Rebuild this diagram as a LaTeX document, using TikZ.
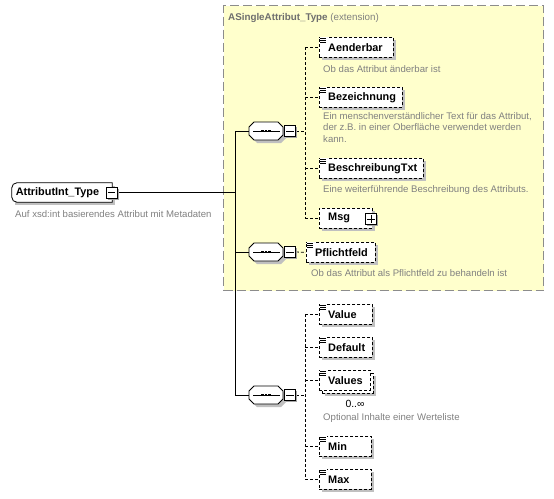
\documentclass[tikz,border=0pt]{standalone}
\usepackage{fontspec}
\setmainfont{Liberation Sans}
\usetikzlibrary{shadows}
\definecolor{grpfill}{RGB}{255,255,204}
\definecolor{grpline}{RGB}{140,140,140}
\definecolor{desc}{RGB}{128,128,128}
\definecolor{titlec}{RGB}{110,110,110}
\definecolor{shadowc}{RGB}{192,192,192}
\tikzset{
  ebox/.style={draw, dash pattern=on 3pt off 2pt, fill=white, line width=0.8pt,
    minimum height=20pt, inner sep=0pt,
    drop shadow={shadow xshift=3pt, shadow yshift=-3pt, fill=shadowc, opacity=1}},
  eboxns/.style={draw, dash pattern=on 3pt off 2pt, fill=white, line width=0.8pt,
    minimum height=20pt, inner sep=0pt},
  elabel/.style={font=\bfseries\fontsize{10.9}{12}\selectfont, inner sep=0pt, anchor=west},
  desctext/.style={font=\fontsize{9.6}{11.8}\selectfont, text=desc, inner sep=0pt, align=left},
  pmbox/.style={draw, fill=white, line width=0.9pt, minimum size=11pt, inner sep=0pt,
    drop shadow={shadow xshift=1.5pt, shadow yshift=-1.5pt, fill=gray!70, opacity=1}},
  seqnode/.style={minimum width=34pt, minimum height=18pt, inner sep=0pt},
  conn/.style={line width=0.8pt},
  dconn/.style={line width=0.8pt, dash pattern=on 3pt off 2pt},
  grpbox/.style={draw=grpline, fill=grpfill, line width=1.1pt, dash pattern=on 9pt off 4pt,
    inner sep=0pt, anchor=north west},
}
\newcommand\elicon[1]{%
  \fill[white] ([shift={(0.5pt,0.5pt)}]#1.north west) rectangle ++(7,6);
  \foreach \yy in {1.2,3.2,5.2} \draw[line width=0.7pt] ([shift={(1,\yy)}]#1.north west) -- ++(5.5,0);}
\newcommand\elem[5]{%
  \node[ebox, minimum width=#4pt, anchor=north west] (#1) at (#2,#3) {};
  \node[elabel] (#1-l) at ([xshift=9pt]#1.west) {#5};
  \elicon{#1}}
\newcommand\minusmark[1]{\draw[line width=0.9pt] ([xshift=2.2pt]#1.west) -- ([xshift=-2.2pt]#1.east);}
\newcommand\plusmark[1]{\minusmark{#1}\draw[line width=0.9pt] ([yshift=-2.2pt]#1.north) -- ([yshift=2.2pt]#1.south);}
\newcommand\octpath{++(-12,-9) -- ++(24,0) -- ++(5,5) -- ++(0,8) -- ++(-5,5) -- ++(-24,0) -- ++(-5,-5) -- ++(0,-8) -- cycle}
\newcommand\seqdraw[1]{%
  \fill[shadowc] (#1.center) ++(3,3) \octpath;
  \filldraw[fill=white, draw=black, line width=0.8pt] (#1.center) \octpath;
  \draw[line width=0.8pt] (#1.center) ++(-13,0) -- ++(27,0);
  \foreach \dx in {-3.5,0,3.5} \fill ([xshift=\dx pt]#1.center) ++(-1.2,-1.2) rectangle ++(2.4,2.4);}
\begin{document}
\begin{tikzpicture}[x=1pt,y=-1pt]
\useasboundingbox (0,0) rectangle (554,498);
% group box
\node[grpbox, minimum width=320pt, minimum height=285pt] (grp) at (223,5) {};
\node[anchor=west, inner sep=0pt, font=\fontsize{9.8}{12}\selectfont, text=titlec] (grpt) at (228,18)
  {\textbf{ASingleAttribut\_Type} \textcolor{desc}{(extension)}};
% coordinates for the trunk and branch lines
\coordinate (tk) at (235,0);
\coordinate (g1) at (305,0);
\coordinate (g3) at (305,0);
% root
\node[minimum width=100pt, minimum height=19pt, inner sep=0pt] (root) at (62,192.5) {};
\fill[shadowc] ([shift={(3pt,-3pt)}]root.north west) rectangle ([shift={(3pt,-3pt)}]root.south east);
\filldraw[fill=white, line width=0.8pt] (root.north east) [rounded corners=5pt] -- (root.north west) -- (root.south west) [sharp corners] -- (root.south east) -- cycle;
\node[elabel, anchor=center] (rootl) at (57.5,192.5) {AttributInt\_Type};
\node[desctext, anchor=west] (rootd) at (15,214) {Auf xsd:int basierendes Attribut mit Metadaten};
% compositors (anchors)
\node[seqnode] (seq1) at (266,131) {};
\node[seqnode] (seq2) at (266,252) {};
\node[seqnode] (seq3) at (266,395) {};
% elements
\elem{aend}{319}{37}{74}{Aenderbar}
\node[desctext, anchor=west] (aendd) at (323,69) {Ob das Attribut änderbar ist};
\elem{bez}{319}{87}{83}{Bezeichnung}
\node[desctext, anchor=north west] (bezd) at (323,112) {Ein menschenverständlicher Text für das Attribut,\\der z.B. in einer Oberfläche verwendet werden\\kann.};
\elem{besch}{319}{158}{104}{BeschreibungTxt}
\node[desctext, anchor=west] (beschd) at (323,190) {Eine weiterführende Beschreibung des Attributs.};
\node[ebox, minimum width=53pt, anchor=north west] (msg) at (319,208) {};
\node[elabel] (msg-l) at ([xshift=9pt]msg.west) {Msg};
\elem{pfl}{306}{242}{69}{Pflichtfeld}
\node[desctext, anchor=west] (pfld) at (311,273) {Ob das Attribut als Pflichtfeld zu behandeln ist};
\elem{val}{319}{304}{53}{Value}
\elem{def}{319}{337}{53}{Default}
\node[ebox, minimum width=51pt, anchor=north west] (valsb) at (322,373) {};
\node[eboxns, minimum width=51pt, anchor=north west] (vals) at (319,370) {};
\node[elabel] (vals-l) at ([xshift=9pt]vals.west) {Values};
\elicon{vals}
\node[inner sep=0pt, font=\fontsize{10.4}{12}\selectfont] (valsm) at (355,404) {0..∞};
\node[desctext, anchor=west] (valsd) at (323,418) {Optional Inhalte einer Werteliste};
\elem{min}{319}{436}{52}{Min}
\elem{max}{319}{469}{52}{Max}
% solid connectors
\draw[conn] (root.east) -- (root.east -| tk);
\draw[conn] (seq1.west) -- (seq1.west -| tk) -- (seq3.west -| tk) -- (seq3.west);
\draw[conn] (seq2.west) -- (seq2.west -| tk);
% plus/minus boxes
\node[pmbox] (m0) at (111.5,192.5) {}; \minusmark{m0}
\node[pmbox] (m1) at (290,131) {};
\node[pmbox] (m2) at (290,252) {};
\node[pmbox] (m3) at (290,395) {};
\node[pmbox] (pmsg) at (371,219) {}; \plusmark{pmsg}
% dashed connectors
\draw[dconn] (m1.east) -- (m1.east -| g1);
\draw[dconn] (aend.west -| g1) -- (msg.west -| g1);
\foreach \n in {aend,bez,besch,msg} \draw[dconn] (\n.west -| g1) -- (\n.west);
\draw[dconn] (m2.east) -- (pfl.west);
\draw[dconn] (m3.east) -- (m3.east -| g3);
\draw[dconn] (val.west -| g3) -- (max.west -| g3);
\foreach \n in {val,def,vals,min,max} \draw[dconn] (\n.west -| g3) -- (\n.west);
% compositor shapes
\seqdraw{seq1}\seqdraw{seq2}\seqdraw{seq3}
\node[pmbox] (m1b) at (m1) {}; \minusmark{m1b}
\node[pmbox] (m2b) at (m2) {}; \minusmark{m2b}
\node[pmbox] (m3b) at (m3) {}; \minusmark{m3b}
\end{tikzpicture}
\end{document}
